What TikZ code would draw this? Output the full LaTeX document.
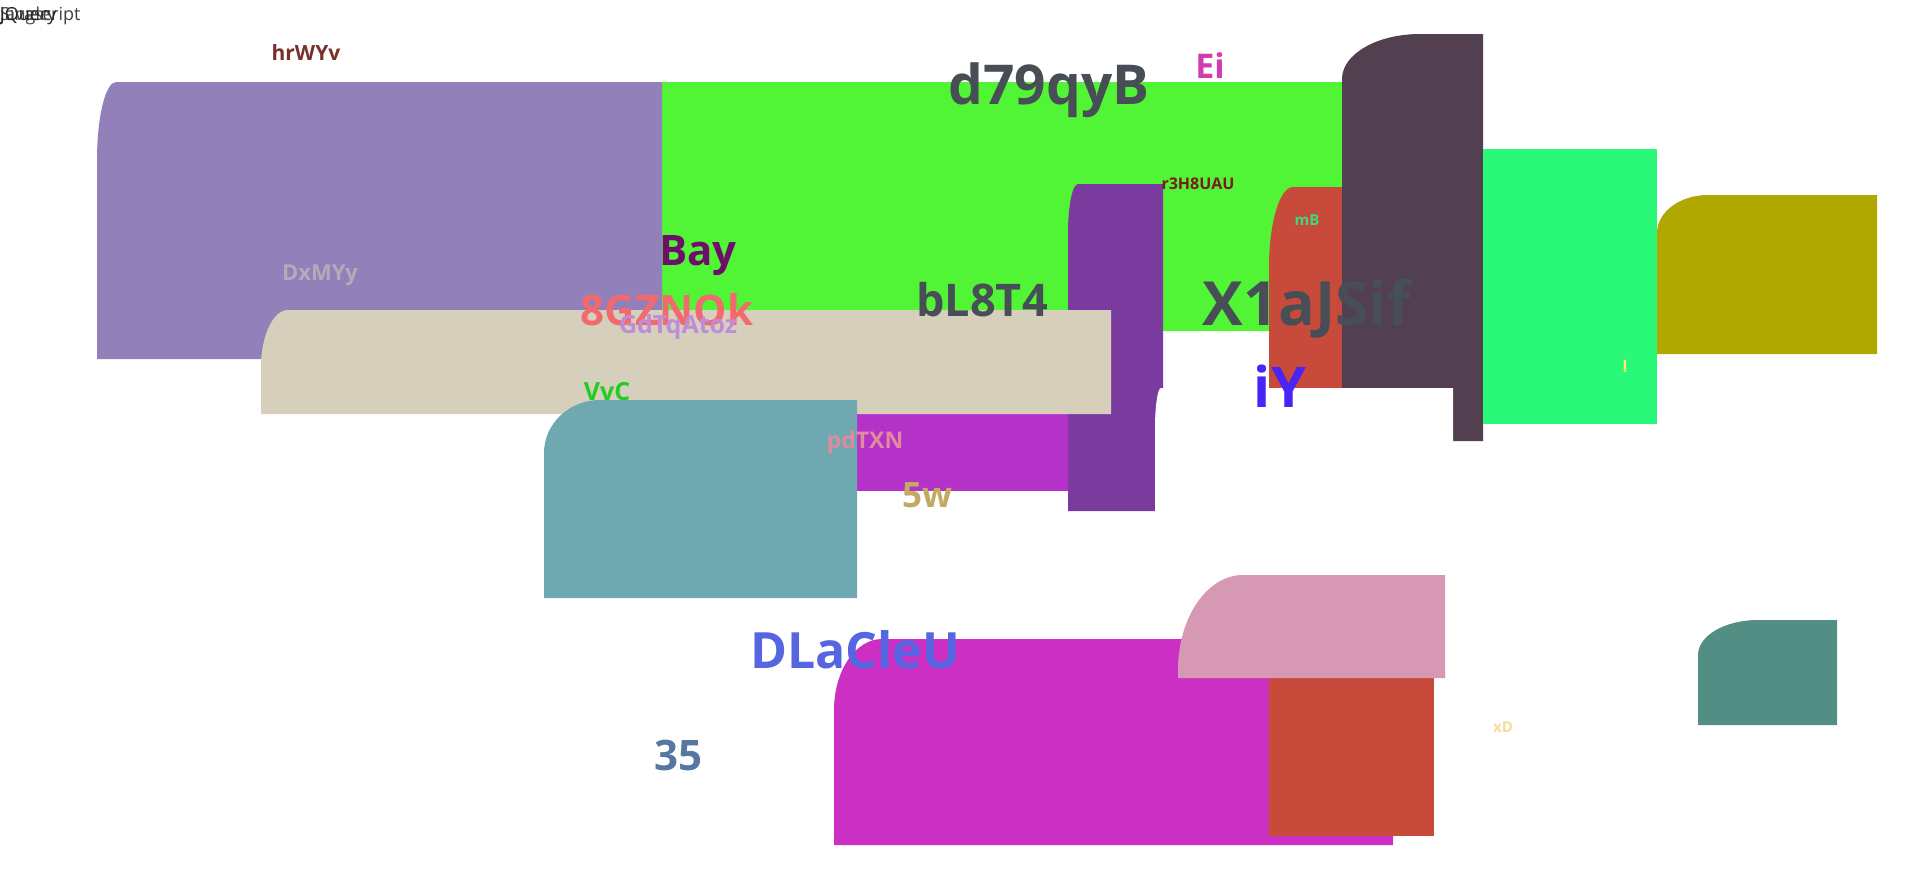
\documentclass[tikz,border=0pt]{standalone}
\usepackage{fontspec}
\setsansfont{Open Sans}
\definecolor{lavend}{HTML}{9180BA}
\definecolor{lime}{HTML}{52F535}
\definecolor{sand}{HTML}{D5CFBC}
\definecolor{grape}{HTML}{7A3A9E}
\definecolor{orchid}{HTML}{B532C9}
\definecolor{seatl}{HTML}{6EA8B0}
\definecolor{brick}{HTML}{C84A3A}
\definecolor{plum}{HTML}{523F50}
\definecolor{spring}{HTML}{29F878}
\definecolor{olive}{HTML}{B0A800}
\definecolor{fuchs}{HTML}{CC2FC4}
\definecolor{rose}{HTML}{D698B2}
\definecolor{jade}{HTML}{528E84}
\definecolor{slate}{HTML}{474E55}
% text colours
\definecolor{rust}{HTML}{7A302A}
\definecolor{pinkish}{HTML}{D23CB0}
\definecolor{maroon}{HTML}{7A1A1A}
\definecolor{mint}{HTML}{3FD87A}
\definecolor{wine}{HTML}{6E0E6A}
\definecolor{mauve}{HTML}{B8A8B8}
\definecolor{salmon}{HTML}{F26A6E}
\definecolor{lilac}{HTML}{C08CD8}
\definecolor{violet}{HTML}{4A24F4}
\definecolor{lemon}{HTML}{F0F060}
\definecolor{leaf}{HTML}{22CC22}
\definecolor{blush}{HTML}{E08AA0}
\definecolor{khaki}{HTML}{C2AA62}
\definecolor{cornfl}{HTML}{5566E0}
\definecolor{steel}{HTML}{5577A0}
\definecolor{cream}{HTML}{F5DC9A}
\newcommand{\fs}[1]{\fontsize{#1}{#1}\selectfont}
% colour, x1, y1, x2, y2, corner rx, corner ry
\newcommand{\roundbox}[7]{%
  \fill[#1] (#2,#5) -- (#2,{#3+#7}) .. controls (#2,{#3+0.448*#7}) and ({#2+0.448*#6},#3) .. ({#2+#6},#3) -- (#4,#3) -- (#4,#5) -- cycle;}
\tikzset{lbl/.style={font=\sffamily\bfseries, inner sep=0pt}}

\begin{document}
\begin{tikzpicture}[x=1pt,y=-1pt]
\fill[white] (0,0) rectangle (1920,870);
\useasboundingbox (0,0) rectangle (1920,870);
% boxes, back to front
\roundbox{lime}{539}{82}{1347}{331}{60}{40}
\roundbox{lavend}{97}{82}{662}{359}{19}{78}
\roundbox{grape}{1068}{184}{1163}{511}{10}{49}
\fill[orchid] (800,414) rectangle (1068,491);
\roundbox{sand}{261}{310}{1111}{414}{27}{57}
\roundbox{seatl}{544}{400}{857}{598}{56}{53}
\roundbox{brick}{1269}{187}{1342}{389}{24}{80}
\roundbox{plum}{1342}{34}{1483}{441}{78}{45}
\fill[spring] (1483,149) rectangle (1657,424);
\roundbox{olive}{1657}{195}{1877}{354}{51}{38}
\roundbox{white}{1155}{388}{1453}{560}{6}{40}
\roundbox{fuchs}{834}{639}{1393}{845}{48}{71}
\fill[brick] (1269,678) rectangle (1434,836);
\roundbox{rose}{1178}{575}{1445}{678}{65}{95}
\roundbox{jade}{1698}{620}{1837}{725}{60}{35}

% labels
\node[lbl, font=\sffamily\fs{18}, text=black!75, anchor=west] (js) at (0,16) {Javascript};
\node[lbl, font=\sffamily\fs{18}, text=black!70, anchor=west] (sg) at (0,16) {Single};
\node[lbl, font=\sffamily\fs{18}, text=black!85, anchor=west] (jq) at (0,16) {jQuery};
\node[lbl, text=rust] (hr) at (306,53) {\fs{21}hrWYv};
\node[lbl, text=slate] (d7) at (1049,90) {\fs{55}d79qyB};
\node[lbl, text=pinkish] (ei) at (1210,66) {\fs{34}Ei};
\node[lbl, text=maroon] (r3) at (1198,184) {\fs{16}r3H8UAU};
\node[lbl, text=mint] (mb) at (1307,220) {\fs{15}mB};
\node[lbl, text=wine] (bay) at (698,256) {\fs{42}Bay};
\node[lbl, text=mauve] (dx) at (320,275) {\fs{22}DxMYy};
\node[lbl, text=salmon] (gz) at (667,310) {\fs{42}8GZNOk};
\node[lbl, text=lilac] (gd) at (678,327) {\fs{25}GdTqAtoz};
\node[lbl, text=slate] (bl) at (982,300) {\fs{45}bL8T4};
\node[lbl, text=slate] (x1) at (1307,309) {\fs{61}X1aJSif};
\node[lbl, text=violet] (iy) at (1280,386) {\fs{56}iY};
\node[lbl, text=lemon] (el) at (1625,366) {\fs{16}l};
\node[lbl, text=leaf] (vv) at (607,392) {\fs{25}VvC};
\node[lbl, text=blush] (pd) at (865,443) {\fs{23}pdTXN};
\node[lbl, text=khaki] (fw) at (927,495) {\fs{35}5w};
\node[lbl, text=cornfl] (dl) at (855,650) {\fs{50}DLaCleU};
\node[lbl, text=steel] (tf) at (678,755) {\fs{42}35};
\node[lbl, text=cream] (xd) at (1503,727) {\fs{15}xD};
\end{tikzpicture}
\end{document}
